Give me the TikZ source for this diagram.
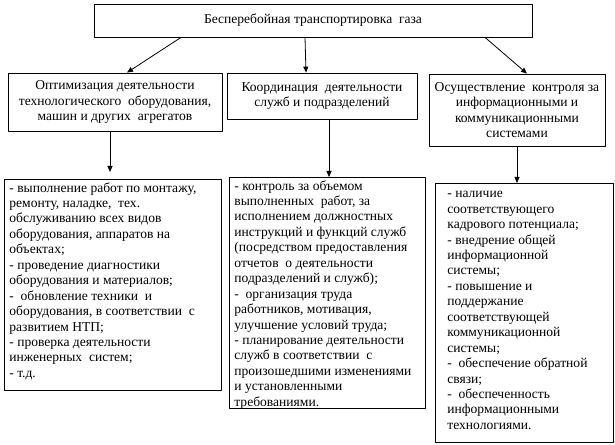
\documentclass[tikz,border=0pt]{standalone}
\usepackage{fontspec}
\setmainfont{Liberation Serif}
\usetikzlibrary{arrows.meta}
\tikzset{
  box/.style={draw, line width=0.8pt, inner sep=0pt, align=center},
  listbox/.style={draw, line width=0.8pt, anchor=north west, inner xsep=5bp, inner ysep=3bp, align=left},
  link/.style={line width=0.8pt, -{Triangle[length=6bp,width=5bp]}}
}
\begin{document}
\begin{tikzpicture}[x=1bp, y=-1bp, font=\fontsize{13.6}{15.5}\selectfont, line join=round]
\useasboundingbox (0,0) rectangle (615,445);
% upper level
\node[box, minimum width=438bp, minimum height=33bp] (top) at (313,20.5) {Бесперебойная транспортировка\ \ газа};
\node[box, minimum width=214bp, minimum height=58bp] (opt) at (115,102) {Оптимизация деятельности\\ технологического\ \ оборудования,\\ машин и других\ \ агрегатов};
\node[box, minimum width=190bp, minimum height=46bp] (coord) at (322,96) {Координация\ \ деятельности\\ служб и подразделений};
\node[box, minimum width=176bp, minimum height=72bp] (ctrl) at (517,110) {Осуществление\ \ контроля за\\ информационными и\\ коммуникационными\\ системами};
% lists
\node[listbox] (list1) at (4,179) {\parbox[t][205bp][t]{207bp}{\raggedright
- выполнение работ по монтажу,\\
ремонту, наладке,\ \ тех.\\
обслуживанию всех видов\\
оборудования, аппаратов на\\
объектах;\\
- проведение диагностики\\
оборудования и материалов;\\
-\ \ обновление техники\ \ и\\
оборудования, в соответствии\ \ с\\
развитием НТП;\\
- проверка деятельности\\
инженерных\ \ систем;\\
- т.д.}};
\node[listbox] (list2) at (229,177) {\parbox[t][225bp][t]{186bp}{\raggedright
- контроль за объемом\\
выполненных\ \ работ, за\\
исполнением должностных\\
инструкций и функций служб\\
(посредством предоставления\\
отчетов\ \ о деятельности\\
подразделений и служб);\\
-\ \ организация труда\\
работников, мотивация,\\
улучшение условий труда;\\
- планирование деятельности\\
служб в соответствии\ \ с\\
произошедшими изменениями\\
и установленными\\
требованиями.}};
\node[listbox, inner xsep=12bp, inner ysep=8bp] (list3) at (435,183) {\parbox[t][243bp][t]{154bp}{\raggedright
- наличие\\
соответствующего\\
кадрового потенциала;\\
- внедрение общей\\
информационной\\
системы;\\
- повышение и\\
поддержание\\
соответствующей\\
коммуникационной\\
системы;\\
-\ \ обеспечение обратной\\
связи;\\
-\ \ обеспеченность\\
информационными\\
технологиями.}};
% connectors
\draw[link] ([xshift=-132bp]top.south) -- ([xshift=12bp]opt.north);
\draw[link] ([xshift=-8bp]top.south) -- ([xshift=-16bp]coord.north);
\draw[link] ([xshift=172bp]top.south) -- ([xshift=10bp]ctrl.north);
\draw[link, shorten >=7bp] ([xshift=-5bp]opt.south) -- ([xshift=-5bp]opt.south |- list1.north);
\draw[link] ([xshift=7bp]coord.south) -- ([xshift=7bp]coord.south |- list2.north);
\draw[link] (ctrl.south) -- (ctrl.south |- list3.north);
\end{tikzpicture}
\end{document}
